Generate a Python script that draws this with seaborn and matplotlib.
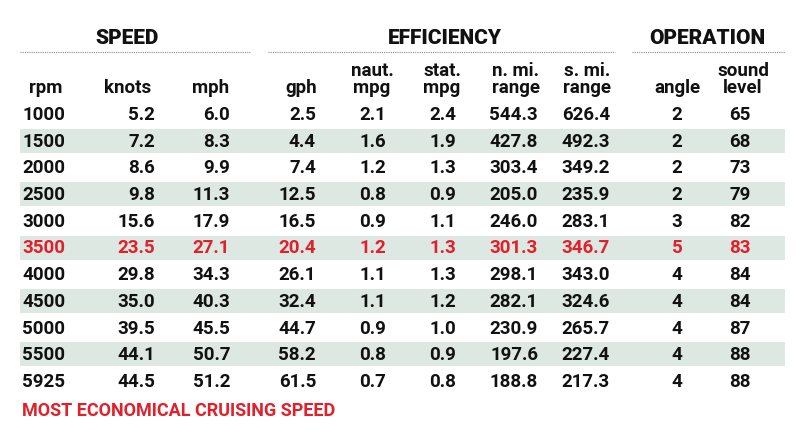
import matplotlib
matplotlib.use("Agg")
import matplotlib.pyplot as plt
import seaborn as sns

sns.set_theme(style="white")
plt.rcParams['font.family'] = ['Roboto', 'DejaVu Sans']

rpm = ["1000","1500","2000","2500","3000","3500","4000","4500","5000","5500","5925"]
knots = ["5.2","7.2","8.6","9.8","15.6","23.5","29.8","35.0","39.5","44.1","44.5"]
mph = ["6.0","8.3","9.9","11.3","17.9","27.1","34.3","40.3","45.5","50.7","51.2"]
gph = ["2.5","4.4","7.4","12.5","16.5","20.4","26.1","32.4","44.7","58.2","61.5"]
naut_mpg = ["2.1","1.6","1.2","0.8","0.9","1.2","1.1","1.1","0.9","0.8","0.7"]
stat_mpg = ["2.4","1.9","1.3","0.9","1.1","1.3","1.3","1.2","1.0","0.9","0.8"]
n_range = ["544.3","427.8","303.4","205.0","246.0","301.3","298.1","282.1","230.9","197.6","188.8"]
s_range = ["626.4","492.3","349.2","235.9","283.1","346.7","343.0","324.6","265.7","227.4","217.3"]
angle = ["2","2","2","2","3","5","4","4","4","4","4"]
sound = ["65","68","73","79","82","83","84","84","87","88","88"]
col_headers = ["rpm","knots","mph","gph","naut.\nmpg","stat.\nmpg","n. mi.\nrange","s. mi.\nrange","angle","sound\nlevel"]
groups = ["SPEED","EFFICIENCY","OPERATION"]
highlight = "3500"
footer = "MOST ECONOMICAL CRUISING SPEED"

cols = [rpm, knots, mph, gph, naut_mpg, stat_mpg, n_range, s_range, angle, sound]
W, H = 800, 439
fig = plt.figure(figsize=(8, 4.39), dpi=100)
ax = fig.add_axes([0, 0, 1, 1])
ax.set_xlim(0, W); ax.set_ylim(H, 0); ax.axis("off")

RED = "#e0202a"
data_x = [75, 155, 230, 316, 386, 456, 538, 610, 683, 746]
head_x = [46, 128, 211, 301, 372, 442, 516, 587, 677, 743]
row_y0, dy = 115, 26.7

for i, r in enumerate(rpm):
    y = row_y0 + i * dy
    if i % 2 == 1:
        ax.add_patch(plt.Rectangle((20, y - 12), 765, 24, color="#dde8e2", lw=0))
    c = RED if r == highlight else "#111111"
    for j, col in enumerate(cols):
        ha = "left" if j == 0 else ("center" if j >= 8 else "right")
        x = 22 if j == 0 else (data_x[j] - 6 if j >= 8 else data_x[j])
        ax.text(x, y, col[i], ha=ha, va="center", fontsize=13.5, color=c, fontweight="bold")

for j, h in enumerate(col_headers):
    ax.text(head_x[j], 93, h, ha="center", va="baseline", fontsize=13.5,
            fontweight="bold", color="#111111", linespacing=0.9)

for g, (cx, x0, x1) in zip(groups, [(127, 20, 250), (445, 268, 615), (707, 632, 785)]):
    ax.text(cx, 39, g, ha="center", va="center", fontsize=15, fontweight="black", color="#111111")
    ax.plot([x0, x1], [53, 53], ls=(0, (1, 1)), color="#888888", lw=0.8)

ax.text(22, 411, footer, ha="left", va="center", fontsize=13, fontweight="bold", color=RED)
fig.savefig("out.png", dpi=100, facecolor="white")
